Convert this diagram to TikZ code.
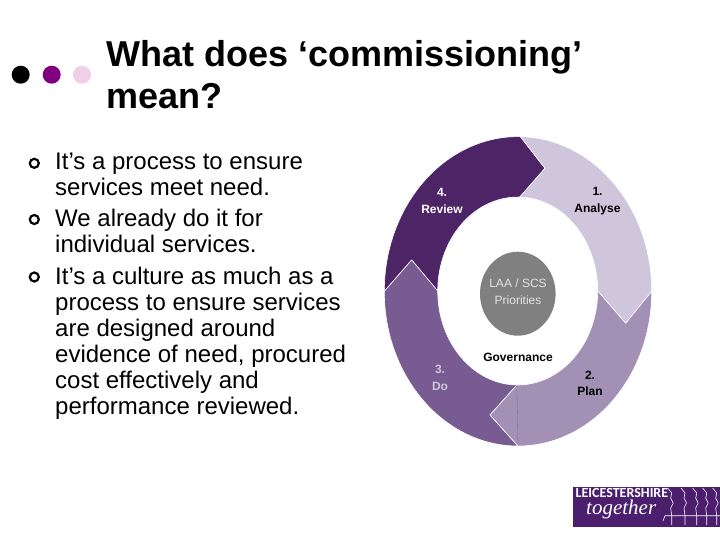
\documentclass[tikz,border=0pt]{standalone}
\usepackage{fontspec}
\usetikzlibrary{shapes.geometric}
\setmainfont{Liberation Sans}
\newfontfamily\logofont{Carlito}
\newfontfamily\logoscript{Liberation Serif}
\definecolor{segone}{HTML}{CFC6DB}
\definecolor{segtwo}{HTML}{A390B5}
\definecolor{segthree}{HTML}{775B91}
\definecolor{segfour}{HTML}{4D2466}
\definecolor{corefill}{HTML}{808080}
\definecolor{corelabel}{HTML}{E4E4E4}
\definecolor{logopurple}{HTML}{4B1E6E}
\definecolor{dotpurple}{HTML}{800080}
\definecolor{dotpink}{HTML}{F0D0E8}
\tikzset{
  seg/.style={draw=white,line width=0.6pt,line join=miter},
  titletext/.style={inner sep=0,anchor=north west,align=left,font=\fontsize{36}{42}\selectfont\bfseries},
  bodytext/.style={inner sep=0,anchor=north west,align=left,font=\fontsize{24}{26}\selectfont},
  bulletring/.style={circle,draw=black,line width=2.2pt,fill=white,minimum size=9pt,inner sep=0},
  dot/.style={circle,minimum size=18pt,inner sep=0},
  lab/.style={inner sep=0,align=center,font=\fontsize{12}{16.5}\selectfont\bfseries},
  wave/.style={draw=white,line width=0.6pt,line join=round},
}
\def\orx{133.7}\def\ory{154.7}\def\irx{80}\def\iry{94}
\begin{document}
\begin{tikzpicture}[x=1pt,y=-1pt]
\fill[white] (0,0) rectangle (720,540);
\useasboundingbox (0,0) rectangle (720,540);
\coordinate (oc) at (518,291.3);
\coordinate (ic) at (517.7,291);
\coordinate (t1) at (545,168.3);
\coordinate (t2) at (625.7,323.3);
\coordinate (t3) at (490,415);
\coordinate (t4) at (411.7,260);
% segment 4
\filldraw[seg,fill=segfour] ([shift={(180:\orx pt and \ory pt)}]oc)
  arc[start angle=180,end angle=271,x radius=\orx,y radius=\ory]
  -- (t1)
  -- ([shift={(88.5:\irx pt and \iry pt)}]ic)
  arc[start angle=271.5,end angle=180,x radius=\irx,y radius=\iry]
  -- (t4) -- cycle;
% segment 1
\filldraw[seg,fill=segone] ([shift={(89:\orx pt and \ory pt)}]oc)
  arc[start angle=-89,end angle=0,x radius=\orx,y radius=\ory]
  -- (t2)
  -- ([shift={(0:\irx pt and \iry pt)}]ic)
  arc[start angle=0,end angle=-88.5,x radius=\irx,y radius=\iry]
  -- (t1) -- cycle;
% segment 3
\filldraw[seg,fill=segthree] ([shift={(-90:\orx pt and \ory pt)}]oc)
  arc[start angle=90,end angle=180,x radius=\orx,y radius=\ory]
  -- (t4)
  -- ([shift={(180:\irx pt and \iry pt)}]ic)
  arc[start angle=180,end angle=90.6,x radius=\irx,y radius=\iry]
  -- (t3) -- cycle;
% segment 2
\filldraw[seg,fill=segtwo] ([shift={(0:\orx pt and \ory pt)}]oc)
  arc[start angle=0,end angle=90,x radius=\orx,y radius=\ory]
  -- (t3)
  -- ([shift={(-90.6:\irx pt and \iry pt)}]ic)
  arc[start angle=90.6,end angle=0,x radius=\irx,y radius=\iry]
  -- (t2) -- cycle;
\draw[segthree!70!segtwo,line width=0.3pt] ([shift={(-90.6:\irx pt and \iry pt)}]ic) -- ([shift={(-90:\orx pt and \ory pt)}]oc);
% centre
\node[ellipse,fill=corefill,minimum width=75.6pt,minimum height=84pt,inner sep=0] (core) at (517.8,293.7) {};
\node[inner sep=0,align=center,text=corelabel,font=\fontsize{12}{17}\selectfont] (corelab) at (518,292) {LAA / SCS\\Priorities};
\node[lab,text=black] (gov) at (518,357.5) {Governance};
\node[lab,text=black] (l1) at (597.5,201) {1.\\Analyse};
\node[lab,text=black] (l2) at (590,383.5) {2.\\Plan};
\node[lab,text=segone] (l3) at (440,378) {3.\\Do};
\node[lab,text=white] (l4) at (442,201) {4.\\Review};
% title dots
\node[dot,fill=black] (d1) at (20.7,74.7) {};
\node[dot,fill=dotpurple] (d2) at (51.7,74.7) {};
\node[dot,fill=dotpink] (d3) at (82,74.7) {};
\node[titletext] (title) at (106,40) {What does ‘commissioning’\\mean?};
% bullets
\node[bulletring] (b1) at (34.3,163.3) {};
\node[bulletring] (b2) at (34.3,219.5) {};
\node[bulletring] (b3) at (34.3,277) {};
\node[bodytext] (p1) at (55,152.5) {It’s a process to ensure\\services meet need.};
\node[bodytext] (p2) at (55,209) {We already do it for\\individual services.};
\node[bodytext] (p3) at (55,267) {It’s a culture as much as a\\process to ensure services\\are designed around\\evidence of need, procured\\cost effectively and\\performance reviewed.};
% logo
\fill[logopurple] (573.3,486.7) rectangle (720,526.7);
\node[inner sep=0,anchor=base west,text=white,font=\logofont\fontsize{14}{14}\selectfont\bfseries] (logoa) at (575.5,497.7) {LEICESTERSHIRE};
\node[inner sep=0,anchor=base west,text=white,font=\logoscript\fontsize{21}{21}\selectfont\itshape] (logob) at (586,514) {together};
\foreach \x in {671.7,685,696.7,706.7,716.7}{
  \draw[wave] (\x-4,488) -- (\x,493) -- (\x-1,498) -- (\x+1.5,503) -- (\x-1,508) -- (\x,515.7) -- (\x,525);
}
\draw[wave] (663,521) -- (665,515.7) -- (720,515.7);
\end{tikzpicture}
\end{document}
